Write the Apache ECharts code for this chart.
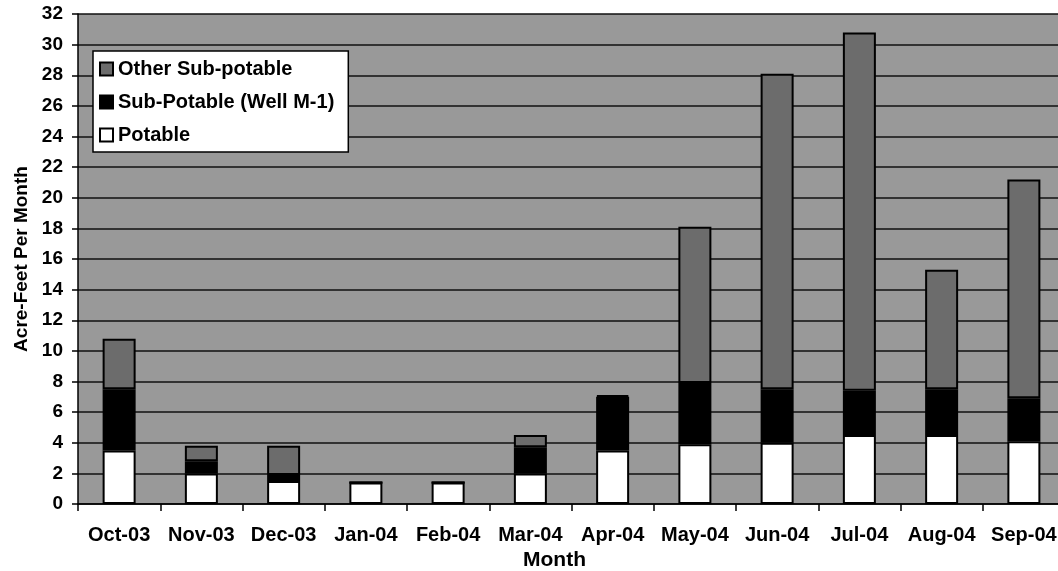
<!DOCTYPE html>
<html><head><meta charset="utf-8">
<script src="https://cdn.jsdelivr.net/npm/echarts@6/dist/echarts.min.js"></script>
<style>html,body{margin:0;padding:0;background:#fff}#c{width:1058px;height:571px}</style>
</head><body><div id="c"></div>
<script>
const categories = ["Oct-03","Nov-03","Dec-03","Jan-04","Feb-04","Mar-04","Apr-04","May-04","Jun-04","Jul-04","Aug-04","Sep-04"];
const potable = [3.5, 2.0, 1.5, 1.4, 1.4, 2.0, 3.5, 3.9, 4.0, 4.5, 4.5, 4.1];
const wellM1 = [4.0, 0.8, 0.4, 0, 0, 1.7, 3.5, 4.0, 3.5, 2.9, 3.0, 2.8];
const otherSub = [3.3, 1.0, 1.9, 0, 0, 0.8, 0.1, 10.2, 20.6, 23.4, 7.8, 14.3];
const yTicks = {min: 0, max: 32, interval: 2};

const font = '"Liberation Sans", Arial, sans-serif';
const chart = echarts.init(document.getElementById('c'), null, {renderer: 'canvas'});
const barBase = {type: 'bar', stack: 'total', barWidth: 33};
chart.setOption({
  animation: false,
  backgroundColor: '#fff',
  grid: {left: 78, top: 14, bottom: 67, right: -7, show: true, backgroundColor: '#999999', borderWidth: 0,
         containLabel: false, outerBoundsMode: 'none'},
  legend: {
    orient: 'vertical', left: 93, top: 51,
    data: ['Other Sub-potable', 'Sub-Potable (Well M-1)', 'Potable'],
    backgroundColor: '#fff', borderColor: '#000', borderWidth: 1.5,
    padding: [8, 14, 7, 6], itemGap: 13, itemWidth: 13, itemHeight: 13,
    icon: 'rect',
    textStyle: {fontFamily: font, fontSize: 20, lineHeight: 20, fontWeight: 'bold', color: '#000'}
  },
  xAxis: {
    type: 'category', data: categories,
    name: 'Month', nameLocation: 'middle', nameGap: 43,
    nameTextStyle: {fontFamily: font, fontSize: 21, fontWeight: 'bold', color: '#000', padding: [0, 34, 0, 0]},
    axisLine: {lineStyle: {color: '#000', width: 1.5}},
    axisTick: {show: true, alignWithLabel: false, interval: 0, length: 7, lineStyle: {color: '#000', width: 1.5}},
    axisLabel: {interval: 0, fontFamily: font, fontSize: 20, fontWeight: 'bold', color: '#000', margin: 21}
  },
  yAxis: {
    type: 'value', min: yTicks.min, max: yTicks.max, interval: yTicks.interval,
    name: 'Acre-Feet Per Month', nameLocation: 'middle', nameGap: 46,
    nameTextStyle: {fontFamily: font, fontSize: 19, fontWeight: 'bold', color: '#000'},
    axisLine: {show: true, lineStyle: {color: '#000', width: 1.5}},
    axisTick: {show: true, length: 6, lineStyle: {color: '#000', width: 1.5}},
    axisLabel: {fontFamily: font, fontSize: 19, fontWeight: 'bold', color: '#000', margin: 15},
    splitLine: {show: true, lineStyle: {color: '#111', width: 1.5}}
  },
  series: [
    Object.assign({}, barBase, {name: 'Potable', data: potable, itemStyle: {color: '#fff', borderColor: '#000', borderWidth: 2}}),
    Object.assign({}, barBase, {name: 'Sub-Potable (Well M-1)', data: wellM1, itemStyle: {color: '#000', borderColor: '#000', borderWidth: 2}}),
    Object.assign({}, barBase, {name: 'Other Sub-potable', data: otherSub, itemStyle: {color: '#6c6c6c', borderColor: '#000', borderWidth: 2}})
  ]
});
</script></body></html>
